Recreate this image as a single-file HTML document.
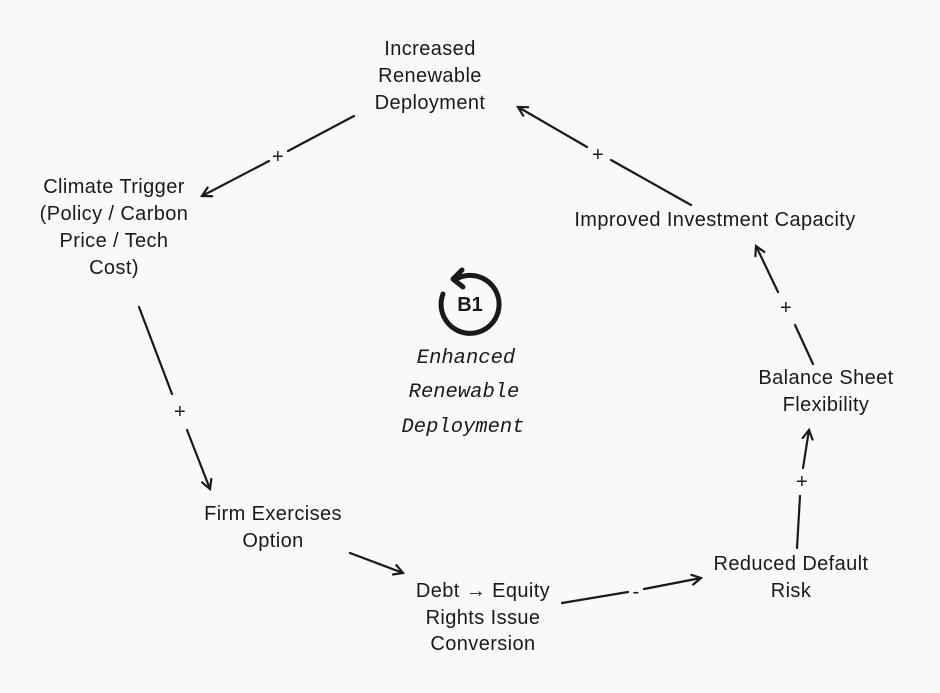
<!DOCTYPE html>
<html><head><meta charset="utf-8"><style>
html,body{margin:0;padding:0;background:#f8f9fa;}
svg{display:block}
.t{font-family:"Liberation Sans",sans-serif;font-size:20px;letter-spacing:0.4px;fill:#1a1a1a;text-anchor:middle}
.m{font-family:"Liberation Mono",monospace;font-style:italic;font-size:20.5px;fill:#1a1a1a;text-anchor:middle}
.l{stroke:#1a1a1a;stroke-width:2.2;fill:none;stroke-linecap:round}
</style></head><body>
<svg width="940" height="693" viewBox="0 0 940 693">
<defs><marker id="a" markerWidth="12" markerHeight="12" refX="10" refY="6" orient="auto" markerUnits="userSpaceOnUse"><path d="M1,1 L10,6 L1,11" fill="none" stroke="#1a1a1a" stroke-width="2.2" stroke-linecap="round"/></marker></defs>
<g class="t">
<text x="430" y="55">Increased</text><text x="430" y="82">Renewable</text><text x="430" y="109">Deployment</text>
<text x="114" y="193">Climate Trigger</text><text x="114" y="220">(Policy / Carbon</text><text x="114" y="247">Price / Tech</text><text x="114" y="274">Cost)</text>
<text x="715" y="226">Improved Investment Capacity</text>
<text x="826" y="384">Balance Sheet</text><text x="826" y="411">Flexibility</text>
<text x="273" y="520">Firm Exercises</text><text x="273" y="547">Option</text>
<text x="483" y="597">Debt → Equity</text><text x="483" y="624">Rights Issue</text><text x="483" y="650">Conversion</text>
<text x="791" y="570">Reduced Default</text><text x="791" y="597">Risk</text>
<text x="278" y="163">+</text><text x="180" y="418">+</text><text x="636" y="598">-</text>
<text x="802" y="488">+</text><text x="786" y="314">+</text><text x="598" y="161">+</text>
</g>
<g class="m"><text x="466" y="363">Enhanced</text><text x="464" y="397">Renewable</text><text x="463" y="432">Deployment</text></g>
<g class="l">
<path d="M354,116 L288,151 M269,161 L202,196" marker-end="url(#a)"/>
<path d="M139,307 L172,394 M187,430 L210,489" marker-end="url(#a)"/>
<path d="M350,553 L403,573" marker-end="url(#a)"/>
<path d="M562,603 L628,592 M644,589 L701,578" marker-end="url(#a)"/>
<path d="M797,548 L800,496 M803,468 L809,430" marker-end="url(#a)"/>
<path d="M813,364 L795,325 M778,292 L756,246" marker-end="url(#a)"/>
<path d="M691,205 L611,160 M587,147 L518,107" marker-end="url(#a)"/>
</g>
<path d="M458,278 A29,29 0 1 1 443,294" fill="none" stroke="#1a1a1a" stroke-width="5" stroke-linecap="round"/>
<path d="M462,270 L453,279 L463,287" fill="none" stroke="#1a1a1a" stroke-width="5" stroke-linecap="round" stroke-linejoin="round"/>
<text x="470" y="311" style="font-family:'Liberation Sans',sans-serif;font-weight:bold;font-size:20px;fill:#1a1a1a;text-anchor:middle">B1</text>
</svg>
</body></html>
